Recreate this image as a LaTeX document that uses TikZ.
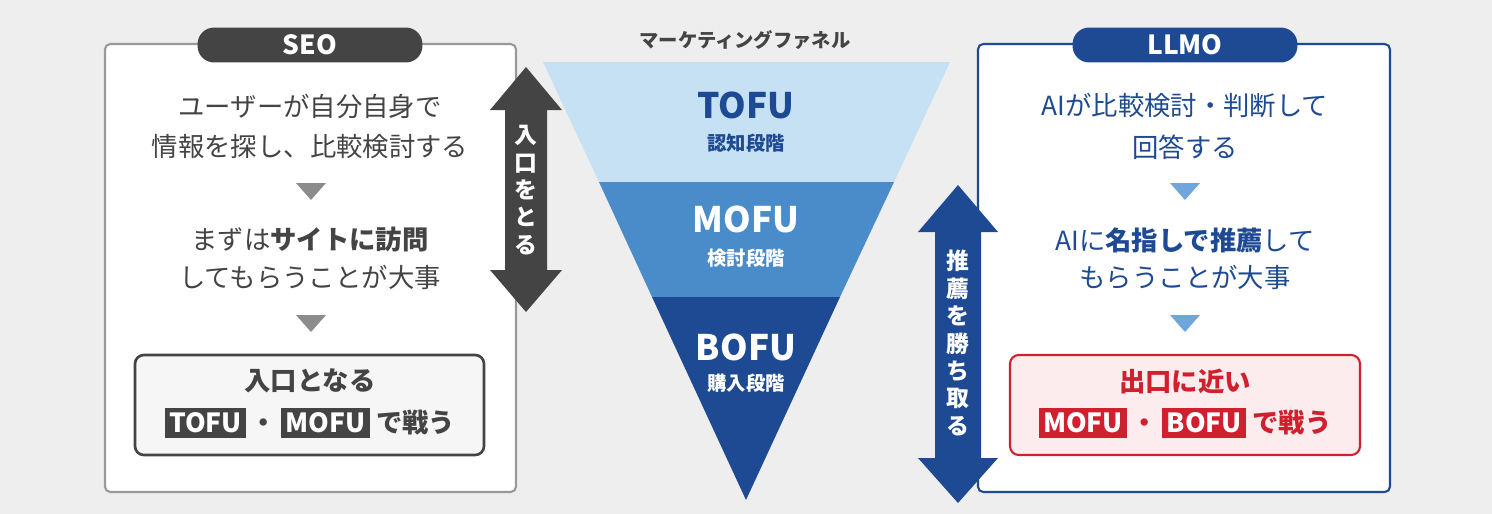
\documentclass[tikz,border=0pt]{standalone}
\usepackage{fontspec}
\setmainfont{Noto Sans CJK JP}
\usetikzlibrary{positioning}
\definecolor{bgGray}{HTML}{EEEEEE}
\definecolor{darkGray}{HTML}{444444}
\definecolor{midGray}{HTML}{999999}
\definecolor{triGray}{HTML}{8C8C8C}
\definecolor{navy}{HTML}{1E4A93}
\definecolor{midBlue}{HTML}{4A8CC9}
\definecolor{paleBlue}{HTML}{C6E0F4}
\definecolor{triBlue}{HTML}{6FA6DD}
\definecolor{redTxt}{HTML}{D0202E}
\definecolor{pinkBg}{HTML}{FDECEE}
\tikzset{
  txt/.style={font=\fontsize{15}{18}\selectfont, text=#1},
  pill/.style={fill=#1, rounded corners=9.5pt, minimum width=4.5cm, minimum height=0.7cm,
    text=white, font=\fontsize{15}{18}\selectfont\bfseries},
  tag/.style={fill=#1, text=white, inner sep=2.5pt, font=\fontsize{15}{18}\selectfont\bfseries},
  stage/.style={text=#1, font=\fontsize{20}{24}\selectfont\bfseries},
  sub/.style={text=#1, font=\fontsize{11}{13}\selectfont\bfseries},
  vtxt/.style={text=white, font=\fontsize{13}{15.6}\selectfont\bfseries, align=center}
}
\begin{document}
\begin{tikzpicture}[x=0.02cm,y=-0.02cm]
  \fill[bgGray] (0,0) rectangle (1492,514);
  \useasboundingbox (0,0) rectangle (1492,514);

  % left panel
  \draw[midGray, line width=1.2pt, fill=white, rounded corners=3pt] (105,44) rectangle (516,492);
  \node[pill=darkGray] (seo) at (310,45) {SEO};
  \node[txt=darkGray] (s1) at (310,106) {ユーザーが自分自身で};
  \node[txt=darkGray] (s2) at (310,147) {情報を探し、比較検討する};
  \fill[triGray] (296,183) -- (326,183) -- (311,200) -- cycle;
  \node[txt=darkGray] (s3) at (310,240) {まずは\textbf{サイトに訪問}};
  \node[txt=darkGray] (s4) at (310,277) {してもらうことが大事};
  \fill[triGray] (296,315) -- (326,315) -- (311,332) -- cycle;
  \draw[darkGray, line width=1.5pt, fill=bgGray!50, rounded corners=5pt] (135,355) rectangle (484,455);
  \node[txt=darkGray, font=\fontsize{15}{18}\selectfont\bfseries] (s5) at (310,381) {入口となる};
  \node[txt=darkGray, font=\fontsize{15}{18}\selectfont\bfseries] (s6) at (310,423)
    {\tikz[baseline]\node[tag=darkGray,anchor=base]{TOFU};\,・\,\tikz[baseline]\node[tag=darkGray,anchor=base]{MOFU}; で戦う};

  % left arrow
  \fill[darkGray] (526,67) -- (562,110) -- (547,110) -- (547,270) -- (562,270) -- (526,312)
    -- (490,270) -- (505,270) -- (505,110) -- (490,110) -- cycle;
  \node[vtxt] (inlet) at (526,190) {入\\口\\を\\と\\る};

  % funnel
  \node[font=\fontsize{11}{13}\selectfont\bfseries, text=darkGray] (ttl) at (745,40) {マーケティングファネル};
  \fill[paleBlue] (543,62) -- (950,62) -- (894,182) -- (599,182) -- cycle;
  \fill[midBlue] (599,182) -- (894,182) -- (840,297) -- (652,297) -- cycle;
  \fill[navy] (652,297) -- (840,297) -- (746,500) -- cycle;
  \node[stage=navy] (tofu) at (746,105) {TOFU};
  \node[sub=navy] (tofuS) at (746,143) {認知段階};
  \node[stage=white] (mofu) at (746,219) {MOFU};
  \node[sub=white] (mofuS) at (746,258) {検討段階};
  \node[stage=white] (bofu) at (746,347) {BOFU};
  \node[sub=white] (bofuS) at (746,383) {購入段階};

  % right panel
  \draw[navy, line width=1.2pt, fill=white, rounded corners=3pt] (978,44) rectangle (1390,492);
  \node[pill=navy] (llmo) at (1185,45) {LLMO};
  \node[txt=navy] (l1) at (1185,106) {AIが比較検討・判断して};
  \node[txt=navy] (l2) at (1185,147) {回答する};
  \fill[triBlue] (1170,183) -- (1200,183) -- (1185,200) -- cycle;
  \node[txt=navy] (l3) at (1185,240) {AIに\textbf{名指しで推薦}して};
  \node[txt=navy] (l4) at (1185,277) {もらうことが大事};
  \fill[triBlue] (1170,315) -- (1200,315) -- (1185,332) -- cycle;
  \draw[redTxt, line width=1.2pt, fill=pinkBg, rounded corners=5pt] (1010,355) rectangle (1360,455);
  \node[txt=redTxt, font=\fontsize{15}{18}\selectfont\bfseries] (l5) at (1185,381) {出口に近い};
  \node[txt=redTxt, font=\fontsize{15}{18}\selectfont\bfseries] (l6) at (1185,423)
    {\tikz[baseline]\node[tag=redTxt,anchor=base]{MOFU};\,・\,\tikz[baseline]\node[tag=redTxt,anchor=base]{BOFU}; で戦う};

  % right arrow
  \fill[navy] (958,185) -- (998,232) -- (981,232) -- (981,458) -- (998,458) -- (958,503)
    -- (918,458) -- (935,458) -- (935,232) -- (918,232) -- cycle;
  \node[vtxt] (win) at (958,343) {推\\薦\\を\\勝\\ち\\取\\る};
\end{tikzpicture}
\end{document}
